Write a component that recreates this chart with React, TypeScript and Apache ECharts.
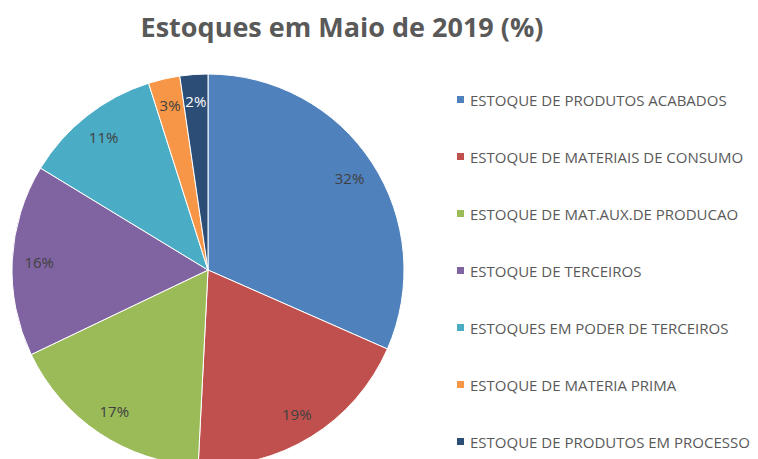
import React, { useEffect, useRef } from "react";
import * as echarts from "echarts";

const categories = [
  "ESTOQUE DE PRODUTOS ACABADOS",
  "ESTOQUE DE MATERIAIS DE CONSUMO",
  "ESTOQUE DE MAT.AUX.DE PRODUCAO",
  "ESTOQUE DE TERCEIROS",
  "ESTOQUES EM PODER DE TERCEIROS",
  "ESTOQUE DE MATERIA PRIMA",
  "ESTOQUE DE PRODUTOS EM PROCESSO",
];
const values = [31.6, 19.2, 17.1, 15.8, 11.4, 2.6, 2.3];
const colors = ["#4F81BD", "#C0504D", "#9BBB59", "#8064A2", "#4BACC6", "#F79646", "#2C4D75"];
const labelColors = ["#404040", "#404040", "#404040", "#404040", "#404040", "#404040", "#FFFFFF"];

export default function App() {
  const ref = useRef<HTMLDivElement>(null);
  useEffect(() => {
    if (!ref.current) return;
    const chart = echarts.init(ref.current, null, { renderer: "svg" });
    const font = "'Open Sans', Calibri, sans-serif";
    const data = categories.map((name, i) => ({
      name,
      value: values[i],
      itemStyle: { color: colors[i] },
    }));
    const labelData = categories.map((name, i) => ({
      name,
      value: values[i],
      label: { color: labelColors[i] },
    }));
    chart.setOption({
      animation: false,
      backgroundColor: "#FFFFFF",
      color: colors,
      title: {
        text: "Estoques em Maio de 2019 (%)",
        left: 337,
        textAlign: "center",
        top: 8,
        textStyle: { fontFamily: font, fontSize: 27, fontWeight: "bold", color: "#595959" },
      },
      legend: {
        orient: "vertical",
        left: 455,
        top: 92,
        padding: 0,
        itemGap: 42,
        itemWidth: 9,
        itemHeight: 9,
        icon: "rect",
        data: categories,
        textStyle: { fontFamily: font, fontSize: 15, color: "#595959" },
      },
      series: [
        {
          type: "pie",
          center: [208, 270],
          radius: [0, 196],
          startAngle: 90,
          clockwise: true,
          label: { show: false },
          labelLine: { show: false },
          itemStyle: { borderColor: "#FFFFFF", borderWidth: 1 },
          data,
        },
        {
          type: "pie",
          center: [208, 270],
          radius: [136, 196],
          startAngle: 90,
          clockwise: true,
          silent: true,
          legendHoverLink: false,
          itemStyle: { color: "rgba(0,0,0,0)" },
          label: {
            show: true,
            position: "inside",
            fontFamily: font,
            fontSize: 15,
            formatter: (p: any) => Math.round(p.percent) + "%",
          },
          labelLine: { show: false },
          data: labelData,
        },
      ],
    });
    return () => chart.dispose();
  }, []);
  return (
    <div
      ref={ref}
      style={{ position: "fixed", left: 0, top: 0, width: 758, height: 459 }}
    />
  );
}
